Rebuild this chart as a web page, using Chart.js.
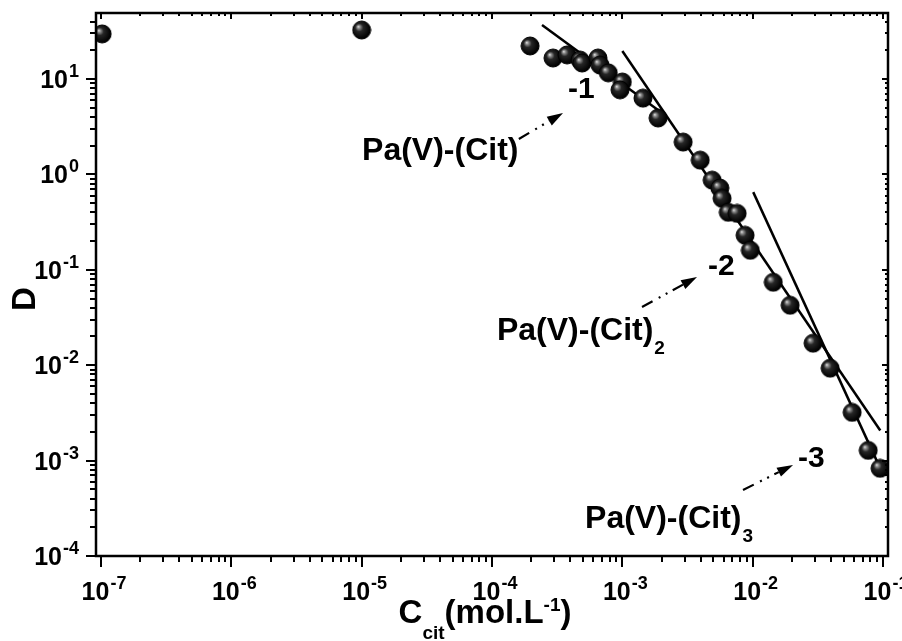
<!DOCTYPE html>
<html lang="en">
<head>
<meta charset="UTF-8">
<title>D vs Ccit</title>
<script src="https://cdn.jsdelivr.net/npm/chart.js"></script>
<style>
  html, body { margin: 0; padding: 0; background: #fff; }
  canvas { display: block; }
</style>
</head>
<body>
<canvas id="chart" width="902" height="641"></canvas>
<script>
// measured points: citrate concentration (mol/L) and distribution ratio D
const concCit = [1.02e-7, 1.0e-5, 1.96e-4, 2.94e-4, 3.77e-4, 4.74e-4, 4.91e-4, 6.5e-4, 6.75e-4, 7.8e-4,
                 1.0e-3, 9.6e-4, 1.44e-3, 1.88e-3, 2.93e-3, 3.96e-3, 4.89e-3, 5.6e-3, 5.83e-3, 6.5e-3,
                 7.6e-3, 8.75e-3, 9.6e-3, 1.44e-2, 1.94e-2, 2.91e-2, 3.93e-2, 5.8e-2, 7.7e-2, 9.5e-2];
const distRatio = [29.7, 32.6, 22.2, 16.6, 17.9, 15.8, 14.7, 16.6, 14.0, 11.6,
                   9.3, 7.7, 6.3, 3.9, 2.18, 1.41, 0.87, 0.72, 0.56, 0.40,
                   0.39, 0.23, 0.16, 0.074, 0.0425, 0.017, 0.0093, 0.0032, 0.00128, 0.00083];

// slope lines (-1, -2, -3), end points
const slope1C = [2.42e-4, 2.17e-3];
const slope1D = [36.9, 4.09];
const slope2C = [1.0e-3, 0.0953];
const slope2D = [19.7, 2.07e-3];
const slope3C = [1.01e-2, 0.0968];
const slope3D = [0.652, 7.9e-4];

// axis decades
const xDecades = [-7, -6, -5, -4, -3, -2, -1];
const yDecades = [-4, -3, -2, -1, 0, 1];

// annotations, anchored in log10 data space
const notes = [
  { text: '-1', lx: -3.417, ly: 0.801, size: 30 },
  { text: 'Pa(V)-(Cit)', lx: -4.997, ly: 0.151, size: 32 },
  { text: '-2', lx: -2.343, ly: -1.055, size: 30 },
  { text: 'Pa(V)-(Cit)', sub: '2', lx: -3.962, ly: -1.736, size: 32 },
  { text: '-3', lx: -1.652, ly: -3.067, size: 30 },
  { text: 'Pa(V)-(Cit)', sub: '3', lx: -3.286, ly: -3.706, size: 32 }
];
const arrows = [
  { from: [-3.794, 0.371], to: [-3.455, 0.644] },
  { from: [-2.849, -1.390], to: [-2.427, -1.075] },
  { from: [-2.074, -3.308], to: [-1.690, -3.046] }
];

const FONT = '"Liberation Sans", Arial, sans-serif';

function makeBall(r) {
  const c = document.createElement('canvas');
  c.width = c.height = r * 2 + 2;
  const g = c.getContext('2d');
  const cx = r + 1, cy = r + 1;
  const grad = g.createRadialGradient(cx - r * 0.38, cy - r * 0.38, 0.3, cx - r * 0.1, cy - r * 0.1, r * 1.05);
  grad.addColorStop(0, '#d8d8d8');
  grad.addColorStop(0.14, '#8c8c8c');
  grad.addColorStop(0.4, '#262626');
  grad.addColorStop(1, '#000');
  g.fillStyle = grad;
  g.beginPath();
  g.arc(cx, cy, r, 0, Math.PI * 2);
  g.fill();
  g.strokeStyle = '#000';
  g.lineWidth = 1;
  g.stroke();
  return c;
}

function pts(xs, ys) {
  return xs.map((v, i) => ({ x: v, y: ys[i] }));
}

const framePlugin = {
  id: 'frame',
  afterDraw(chart) {
    const { ctx, chartArea: a, scales: { x, y } } = chart;
    const line = (x0, y0, x1, y1) => { ctx.beginPath(); ctx.moveTo(x0, y0); ctx.lineTo(x1, y1); ctx.stroke(); };
    ctx.save();
    ctx.strokeStyle = '#000';
    ctx.fillStyle = '#000';
    ctx.textBaseline = 'alphabetic';

    // ticks
    ctx.lineWidth = 2;
    xDecades.forEach(e => {
      for (let m = 1; m < 10; m++) {
        const v = m * Math.pow(10, e);
        if (v < x.min || v > x.max) continue;
        const px = Math.round(x.getPixelForValue(v));
        const major = m === 1;
        line(px, a.bottom, px, a.bottom + (major ? 11 : 6));
        line(px, a.top, px, a.top + (major ? 6 : 3));
      }
    });
    yDecades.forEach(e => {
      for (let m = 1; m < 10; m++) {
        const v = m * Math.pow(10, e);
        if (v < y.min || v > y.max) continue;
        const py = Math.round(y.getPixelForValue(v));
        const major = m === 1;
        line(a.left, py, a.left - (major ? 10 : 6), py);
        line(a.right, py, a.right - (major ? 6 : 3), py);
      }
    });

    // frame
    ctx.lineWidth = 2.5;
    ctx.strokeRect(a.left, a.top, a.right - a.left, a.bottom - a.top);

    // tick labels 10^n
    const powLabel = (exp, px, baseY, align) => {
      ctx.font = 'bold 25px ' + FONT;
      const wb = ctx.measureText('10').width;
      ctx.font = 'bold 18px ' + FONT;
      const sup = String(exp);
      const ws = ctx.measureText(sup).width;
      const total = wb + 1 + ws;
      const left = align === 'right' ? px - total : px - total / 2;
      ctx.textAlign = 'left';
      ctx.font = 'bold 25px ' + FONT;
      ctx.fillText('10', left, baseY);
      ctx.font = 'bold 18px ' + FONT;
      ctx.fillText(sup, left + wb + 1, baseY - 11);
    };
    xDecades.forEach(e => powLabel(e, x.getPixelForValue(Math.pow(10, e)) + 3, a.bottom + 44, 'center'));
    yDecades.forEach(e => powLabel(e, a.left - 17, y.getPixelForValue(Math.pow(10, e)) + 9, 'right'));

    // axis titles
    ctx.textAlign = 'left';
    const xt = [['C', 33, 0], ['cit', 19, 16], ['(mol.L', 33, 0], ['-1', 19, -12], [')', 33, 0]];
    let w = 0;
    xt.forEach(([t, s]) => { ctx.font = 'bold ' + s + 'px ' + FONT; w += ctx.measureText(t).width; });
    let cx = (a.left + a.right) / 2 - 7 - w / 2;
    xt.forEach(([t, s, dy]) => {
      ctx.font = 'bold ' + s + 'px ' + FONT;
      ctx.fillText(t, cx, 623 + dy);
      cx += ctx.measureText(t).width;
    });

    ctx.save();
    ctx.translate(35, 299);
    ctx.rotate(-Math.PI / 2);
    ctx.textAlign = 'center';
    ctx.font = 'bold 33px ' + FONT;
    ctx.fillText('D', 0, 0);
    ctx.restore();

    // annotations
    ctx.textAlign = 'left';
    notes.forEach(n => {
      const px = x.getPixelForValue(Math.pow(10, n.lx));
      const py = y.getPixelForValue(Math.pow(10, n.ly));
      ctx.font = 'bold ' + n.size + 'px ' + FONT;
      ctx.fillText(n.text, px, py);
      if (n.sub) {
        const tw = ctx.measureText(n.text).width;
        ctx.font = 'bold 19px ' + FONT;
        ctx.fillText(n.sub, px + tw + 1, py + 14);
      }
    });

    arrows.forEach(ar => {
      const x0 = x.getPixelForValue(Math.pow(10, ar.from[0]));
      const y0 = y.getPixelForValue(Math.pow(10, ar.from[1]));
      const x1 = x.getPixelForValue(Math.pow(10, ar.to[0]));
      const y1 = y.getPixelForValue(Math.pow(10, ar.to[1]));
      const ang = Math.atan2(y1 - y0, x1 - x0);
      const hl = 16, hw = 5;
      const bx = x1 - hl * Math.cos(ang), by = y1 - hl * Math.sin(ang);
      ctx.lineWidth = 2.2;
      ctx.setLineDash([12, 7, 2, 6, 2, 6]);
      line(x0, y0, bx, by);
      ctx.setLineDash([]);
      ctx.beginPath();
      ctx.moveTo(x1, y1);
      ctx.lineTo(bx + hw * Math.sin(ang), by - hw * Math.cos(ang));
      ctx.lineTo(bx - hw * Math.sin(ang), by + hw * Math.cos(ang));
      ctx.closePath();
      ctx.fill();
    });

    ctx.restore();
  }
};

const ball = makeBall(9);

const lineStyle = {
  showLine: true,
  borderColor: '#000',
  borderWidth: 2.5,
  pointRadius: 0,
  fill: false,
  order: 2,
  clip: 0
};

new Chart(document.getElementById('chart'), {
  type: 'scatter',
  data: {
    datasets: [
      {
        label: 'D',
        data: pts(concCit, distRatio),
        pointStyle: ball,
        pointRadius: 9,
        order: 1,
        clip: 0
      },
      Object.assign({ label: 'slope -1', data: pts(slope1C, slope1D) }, lineStyle),
      Object.assign({ label: 'slope -2', data: pts(slope2C, slope2D) }, lineStyle),
      Object.assign({ label: 'slope -3', data: pts(slope3C, slope3D) }, lineStyle)
    ]
  },
  options: {
    responsive: false,
    animation: false,
    devicePixelRatio: 1,
    layout: { padding: { left: 96, top: 13, right: 14, bottom: 85 } },
    plugins: { legend: { display: false }, tooltip: { enabled: false } },
    scales: {
      x: { type: 'logarithmic', min: Math.pow(10, -7.0384), max: Math.pow(10, -0.9616), display: false },
      y: { type: 'logarithmic', min: 1e-4, max: Math.pow(10, 1.692), display: false }
    }
  },
  plugins: [framePlugin]
});
</script>
</body>
</html>
